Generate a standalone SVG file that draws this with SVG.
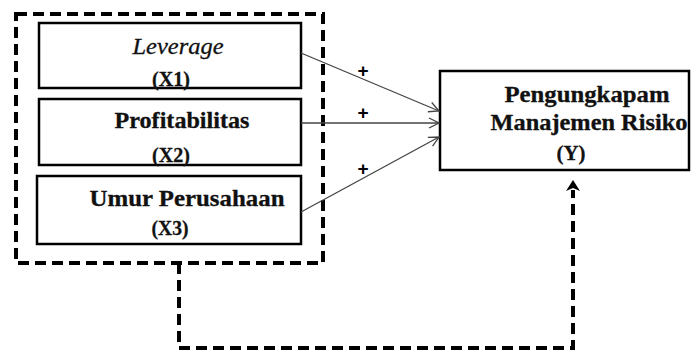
<svg xmlns="http://www.w3.org/2000/svg" width="691" height="356" viewBox="0 0 691 356">
<style>
.box{fill:#fff;stroke:#000;stroke-width:2.5}
.t{font-family:"Liberation Serif","Times New Roman",serif;font-weight:bold;font-size:23px;fill:#111;stroke:#111;stroke-width:0.3}
.s{font-size:21px}
.i{font-style:italic;font-weight:normal;font-size:24px}
.dash{fill:none;stroke:#000;stroke-width:4;stroke-dasharray:11 6}
.ln{fill:none;stroke:#444;stroke-width:1.3}
.plus{font-family:"Liberation Sans",Arial,sans-serif;font-weight:bold;font-size:19px;fill:#000}
</style>
<defs>
<marker id="open" markerWidth="12" markerHeight="12" refX="11" refY="6" orient="auto" markerUnits="userSpaceOnUse">
<path d="M1,1 L11,6 L1,11" fill="none" stroke="#444" stroke-width="1.3"/>
</marker>
</defs>
<g id="group">
<rect class="dash" x="16" y="14" width="307" height="249"/>
</g>
<g id="x1">
<rect class="box" x="39" y="23" width="262" height="65"/>
<text class="t i" x="178" y="54" text-anchor="middle" textLength="91" lengthAdjust="spacingAndGlyphs">Leverage</text>
<text class="t s" x="171" y="86" text-anchor="middle" textLength="38" lengthAdjust="spacingAndGlyphs">(X1)</text>
</g>
<g id="x2">
<rect class="box" x="39" y="99" width="262" height="66"/>
<text class="t" x="182" y="128" text-anchor="middle" textLength="135" lengthAdjust="spacingAndGlyphs">Profitabilitas</text>
<text class="t s" x="171" y="162" text-anchor="middle" textLength="38" lengthAdjust="spacingAndGlyphs">(X2)</text>
</g>
<g id="x3">
<rect class="box" x="37" y="176" width="264" height="68"/>
<text class="t" x="187" y="206" text-anchor="middle" textLength="195" lengthAdjust="spacingAndGlyphs">Umur Perusahaan</text>
<text class="t s" x="170" y="235" text-anchor="middle" textLength="37" lengthAdjust="spacingAndGlyphs">(X3)</text>
</g>
<g id="y">
<rect class="box" x="440" y="71" width="249" height="99"/>
<text class="t" x="587" y="102" text-anchor="middle" textLength="165" lengthAdjust="spacingAndGlyphs">Pengungkapam</text>
<text class="t" x="589" y="130" text-anchor="middle" textLength="197" lengthAdjust="spacingAndGlyphs">Manajemen Risiko</text>
<text class="t s" x="571" y="160" text-anchor="middle" textLength="29" lengthAdjust="spacingAndGlyphs">(Y)</text>
</g>
<g id="connectors">
<line class="ln" x1="301" y1="53" x2="439" y2="111" marker-end="url(#open)"/>
<line class="ln" x1="301" y1="123" x2="439" y2="123" marker-end="url(#open)"/>
<line class="ln" x1="301" y1="212" x2="439" y2="137" marker-end="url(#open)"/>
<path class="dash" d="M179,263 V348 H573 V190" stroke-width="3.5"/>
<path d="M573,180 L580,191 L573,188 L566,191 Z" fill="#000"/>
<text class="plus" x="363" y="77" text-anchor="middle">+</text>
<text class="plus" x="363" y="119" text-anchor="middle">+</text>
<text class="plus" x="363" y="175" text-anchor="middle">+</text>
</g>
</svg>
